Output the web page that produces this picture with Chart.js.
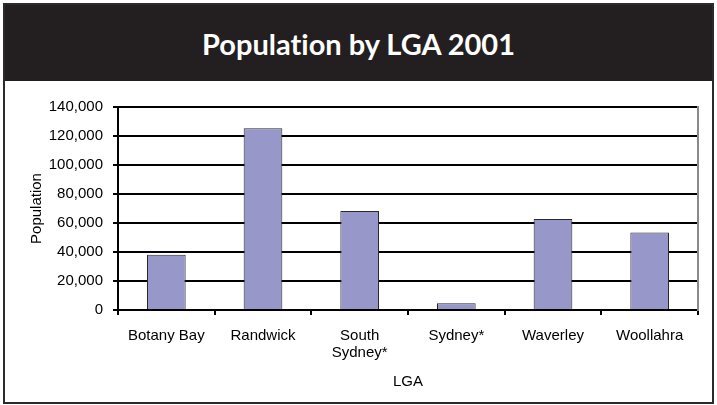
<!DOCTYPE html>
<html>
<head>
  <meta charset="UTF-8">
  <title>Population by LGA 2001</title>
  <script src="https://cdn.jsdelivr.net/npm/chart.js"></script>
  <style>
    body { margin: 0; width: 717px; height: 405px; background: #fff; overflow: hidden; position: relative; }
    .frame {
      position: absolute; left: 3px; top: 3px; width: 707px; height: 397px;
      border: 2px solid #2b2b2b;
    }
    .header {
      position: absolute; left: 0; top: 0; right: 0; height: 76px;
      background: #231f20; color: #fff;
      font-family: Lato, sans-serif; font-weight: bold; font-size: 29px;
      font-variant-ligatures: none;
      display: flex; align-items: center; justify-content: center;
    }
    #chart { position: absolute; left: 0; top: 0; }
  </style>
</head>
<body>
  <div class="frame"><div class="header">Population by LGA 2001</div></div>
  <canvas id="chart" width="717" height="405"></canvas>

  <script>
    const categories = ['Botany Bay', 'Randwick', ['South', 'Sydney*'], 'Sydney*', 'Waverley', 'Woollahra'];
    const population = [38100, 125400, 68200, 4600, 62700, 53500];
    const yTicks = [0, 20000, 40000, 60000, 80000, 100000, 120000, 140000];

    const font = { family: "'Liberation Sans', Arial, sans-serif", size: 15, lineHeight: 1.1 };

    new Chart(document.getElementById('chart').getContext('2d'), {
      type: 'bar',
      data: {
        labels: categories,
        datasets: [{
          label: 'Population',
          data: population,
          backgroundColor: '#9797c9',
          borderColor: '#2a2a2a',
          borderWidth: 1,
          barPercentage: 0.4,
          categoryPercentage: 1.0
        }]
      },
      options: {
        responsive: false,
        animation: false,
        layout: { padding: { top: 107, right: 19, bottom: 0, left: 0 } },
        plugins: { legend: { display: false }, tooltip: { enabled: false } },
        scales: {
          x: {
            grid: { drawOnChartArea: false, drawTicks: true, tickLength: 5, color: '#000', lineWidth: 2 },
            border: { color: '#000', width: 2 },
            ticks: { color: '#000', font: font, padding: 13, maxRotation: 0, autoSkip: false },
            title: { display: true, text: 'LGA', color: '#000', font: font, padding: { top: 0, bottom: 15 } },
            afterFit: s => { s.height = 95; }
          },
          y: {
            min: yTicks[0],
            max: yTicks[yTicks.length - 1],
            afterBuildTicks: s => { s.ticks = yTicks.map(v => ({ value: v })); },
            grid: { color: '#000', lineWidth: 2, tickLength: 5 },
            border: { color: '#000', width: 2 },
            ticks: { color: '#000', font: font, padding: 10, callback: v => v.toLocaleString('en-US') },
            title: { display: true, text: 'Population', color: '#000', font: font, padding: { top: 29, bottom: 0 } },
            afterFit: s => { s.width = 118; }
          },
          y2: {
            position: 'right',
            display: true,
            min: 0, max: 1,
            grid: { drawOnChartArea: false, drawTicks: false },
            border: { color: '#8a8a8a', width: 2 },
            ticks: { display: false },
            afterFit: s => { s.width = 0; }
          }
        }
      }
    });
  </script>
</body>
</html>
